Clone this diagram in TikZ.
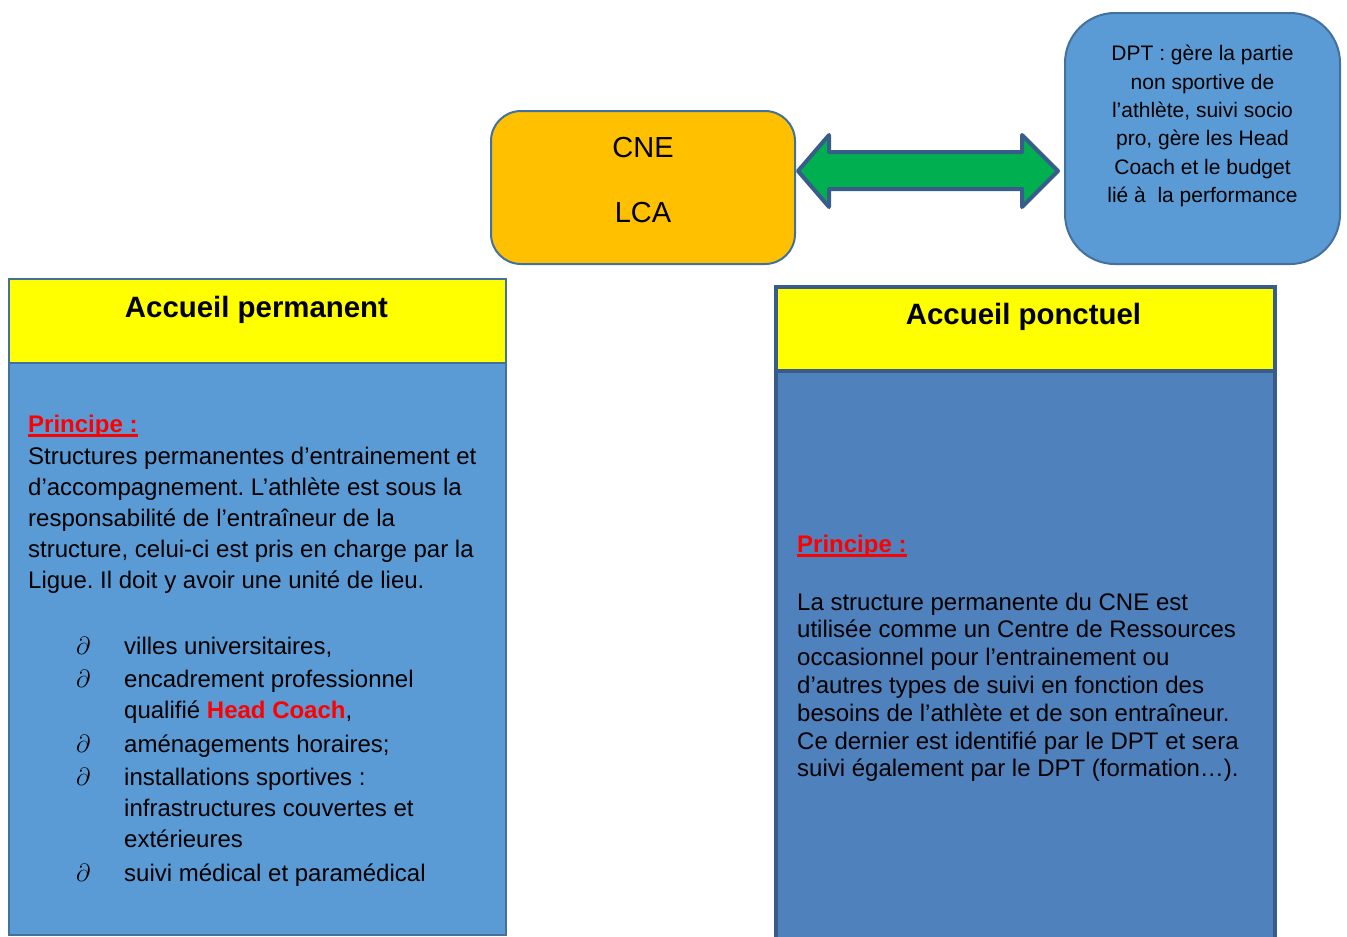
\documentclass[tikz,border=0pt]{standalone}
\usepackage{fontspec}
\setmainfont{Liberation Sans}
\usetikzlibrary{positioning}

\definecolor{cneorange}{HTML}{FFC000}
\definecolor{lightblue}{HTML}{5B9BD5}
\definecolor{darkblue}{HTML}{4F81BD}
\definecolor{edgeblue}{HTML}{41719C}
\definecolor{deepedge}{HTML}{385D8A}
\definecolor{arrowgreen}{HTML}{00B050}
\definecolor{headyellow}{HTML}{FFFF00}
\definecolor{alertred}{HTML}{FF0000}

\frenchspacing
\newcommand\partbullet{\makebox[48pt][l]{$\partial$}}
\newcommand\hangpad{\hspace*{48pt}}

\tikzset{
		roundbox/.style = {shape=rectangle, draw=edgeblue, line width=2pt,
				inner sep=0pt, align=center},
		cnebox/.style   = {roundbox, rounded corners=30pt, fill=cneorange,
				minimum width=304pt, minimum height=153pt,
				font=\fontsize{29}{65}\selectfont},
		dptbox/.style   = {roundbox, rounded corners=50pt, fill=lightblue,
				minimum width=275pt, minimum height=251pt,
				font=\fontsize{21}{28.3}\selectfont},
		headbox/.style  = {shape=rectangle, draw=edgeblue, line width=1.5pt,
				fill=headyellow, inner sep=0pt, minimum width=497pt, minimum height=84pt},
		bodybox/.style  = {headbox, fill=lightblue},
		headbox2/.style = {headbox, draw=deepedge, line width=4pt, minimum width=499pt},
		bodybox2/.style = {headbox2, fill=darkblue},
		title/.style    = {inner sep=0pt, anchor=base, font=\fontsize{29.4}{32}\selectfont\bfseries},
		principe/.style = {inner sep=0pt, anchor=base west, text=alertred,
				font=\fontsize{24}{30}\selectfont\bfseries},
		ulline/.style   = {draw=alertred, line width=2.5pt},
		textblock/.style = {inner sep=0pt, anchor=base west},
		bigarrow/.style = {draw=deepedge, fill=arrowgreen, line width=4pt, line join=round}
	}

\begin{document}
\begin{tikzpicture}[x=1pt, y=-1pt]
	\useasboundingbox (0,0) rectangle (1347,937);

	% top row
	\node [cnebox, anchor=north west, text depth=16pt] (cne) at (490,110) {CNE\\LCA};
	\node [dptbox, anchor=north west, text depth=29pt] (dpt) at (1064,12)
		{DPT : gère la partie\\non sportive de\\l’athlète, suivi socio\\pro, gère les Head\\Coach et le budget\\lié à~ la performance};

	\coordinate (ltip) at (798,171);
	\coordinate (rtip) at (1058,171);
	\draw [bigarrow] (ltip) -- ++(31,-36) -- ++(0,17) -- ++(193,0) -- ++(0,-17) -- (rtip)
		-- ++(-36,36) -- ++(0,-18) -- ++(-193,0) -- ++(0,18) -- cycle;

	% accueil permanent
	\node [headbox, anchor=north west] (permhead) at (8,278) {};
	\node [bodybox, anchor=north west, minimum height=572pt] (permbody) at (8,362) {};
	\node [title] (permtitle) at (256.5,317) {Accueil permanent};
	\node [principe] (permprin) at (28,432) {Principe :};
	\draw [ulline] ([yshift=-3.5pt]permprin.base west) -- ([yshift=-3.5pt]permprin.base east);
	\node [textblock] (permtext) at (28,464)
		{\parbox[t]{490pt}{\fontsize{24}{31.2}\selectfont\raggedright
			Structures permanentes d’entrainement et\\
			d’accompagnement. L’athlète est sous la\\
			responsabilité de l’entraîneur de la\\
			structure, celui-ci est pris en charge par la\\
			Ligue. Il doit y avoir une unité de lieu.}};
	\node [textblock] (permlist) at (76,654)
		{\parbox[t]{440pt}{\fontsize{24}{31}\selectfont\raggedright
			\partbullet villes universitaires,\\[2.5pt]
			\partbullet encadrement professionnel\\
			\hangpad qualifié {\color{alertred}\bfseries Head Coach},\\[2.5pt]
			\partbullet aménagements horaires;\\[2.5pt]
			\partbullet installations sportives :\\
			\hangpad infrastructures couvertes et\\
			\hangpad extérieures\\[2.5pt]
			\partbullet suivi médical et paramédical}};

	% accueil ponctuel
	\node [headbox2, anchor=north west] (ponchead) at (774,285) {};
	\node [bodybox2, anchor=north west, minimum height=580pt] (poncbody) at (774,369) {};
	\node [title] (ponctitle) at (1023.5,324) {Accueil ponctuel};
	\node [principe] (poncprin) at (797,552) {Principe :};
	\draw [ulline] ([yshift=-3.5pt]poncprin.base west) -- ([yshift=-3.5pt]poncprin.base east);
	\node [textblock] (ponctext) at (797,610)
		{\parbox[t]{470pt}{\fontsize{24}{27.8}\selectfont\raggedright
			La structure permanente du CNE est\\
			utilisée comme un Centre de Ressources\\
			occasionnel pour l’entrainement ou\\
			d’autres types de suivi en fonction des\\
			besoins de l’athlète et de son entraîneur.\\
			Ce dernier est identifié par le DPT et sera\\
			suivi également par le DPT (formation…).}};
\end{tikzpicture}
\end{document}
